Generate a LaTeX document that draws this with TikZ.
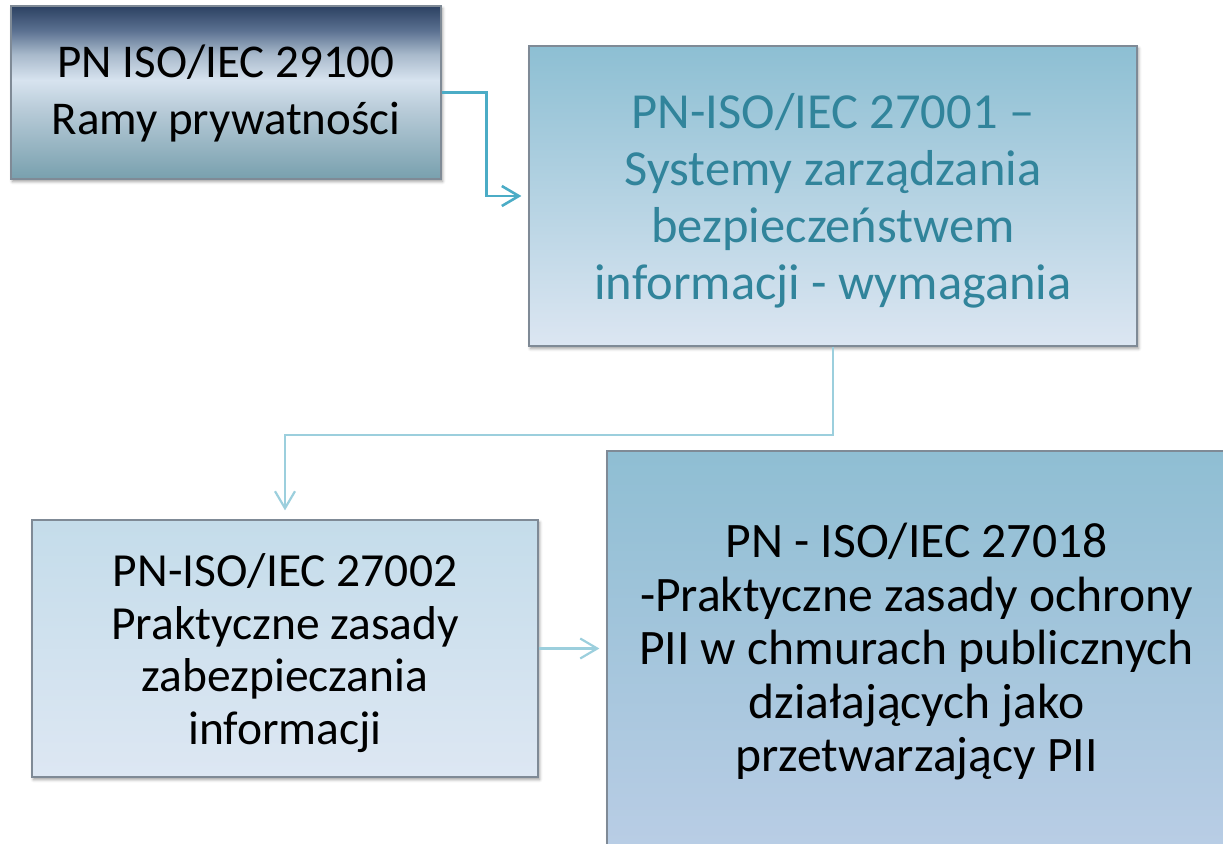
\documentclass[tikz,border=0pt]{standalone}
\usepackage{fontspec}
\setmainfont{Carlito}
\usetikzlibrary{arrows.meta,shadows.blur,calc}

% palette
\definecolor{boxedge}{HTML}{7F8A96}
\definecolor{tealtext}{HTML}{31849B}
\definecolor{linkdark}{HTML}{4BACC6}
\definecolor{linklight}{HTML}{9CCFDD}
\definecolor{mnA}{HTML}{78A0AE}
\definecolor{mnB}{HTML}{B8CBD8}
\definecolor{mnC}{HTML}{D7E3EF}
\definecolor{mnD}{HTML}{A8B9CB}
\definecolor{mnE}{HTML}{5A7090}
\definecolor{mnF}{HTML}{2C4162}
\definecolor{aquaTop}{HTML}{8DBFD3}
\definecolor{aquaBot}{HTML}{DCE6F2}
\definecolor{paleTop}{HTML}{C4DCEA}
\definecolor{paleBot}{HTML}{DDE7F3}
\definecolor{deepTop}{HTML}{8FBED3}
\definecolor{deepBot}{HTML}{B9CDE5}

% metallic navy fill of the first box (path spans 25bp..75bp)
\pgfdeclareverticalshading{metalnavy}{100bp}{%
  color(0bp)=(mnA); color(25bp)=(mnA); color(45bp)=(mnB);
  color(53.6bp)=(mnC); color(61bp)=(mnD); color(68bp)=(mnE);
  color(75bp)=(mnF); color(100bp)=(mnF)}

\tikzset{
  box/.style={draw=boxedge, line width=1.2bp, rectangle, inner sep=0pt,
    blur shadow={shadow xshift=1.5bp, shadow yshift=-2.5bp,
      shadow blur radius=3bp, shadow opacity=40}},
  caption/.style={align=center, inner sep=0pt},
  txtA/.style={caption, font=\fontsize{47bp}{57bp}\selectfont},
  txtB/.style={caption, text=tealtext, font=\fontsize{50.5bp}{57bp}\selectfont},
  txtC/.style={caption, font=\fontsize{47.5bp}{52.5bp}\selectfont},
  txtD/.style={caption, font=\fontsize{49.6bp}{53.5bp}\selectfont},
  barb/.style={-{Straight Barb[length=17bp,width=20bp]}},
  linkA/.style={barb, draw=linkdark, line width=2.6bp, shorten >=7bp},
  linkB/.style={barb, draw=linklight, line width=2.2bp},
}

\begin{document}
\begin{tikzpicture}[x=1bp,y=-1bp]
  \useasboundingbox (0,0) rectangle (1223,844);

  % boxes, each with its caption set in the middle
  \node[box, shading=metalnavy, minimum width=430bp, minimum height=173bp,
    label={[txtA, yshift=-1bp]center:{PN ISO/IEC 29100\\Ramy prywatności}}]
    (b1) at (226,92.5) {};
  \node[box, top color=aquaTop, bottom color=aquaBot,
    minimum width=608bp, minimum height=300bp,
    label={[txtB, yshift=-5bp]center:{PN-ISO/IEC 27001 –\\Systemy zarządzania\\bezpieczeństwem\\informacji - wymagania}}]
    (b2) at (833,196) {};
  \node[box, top color=paleTop, bottom color=paleBot,
    minimum width=506bp, minimum height=257bp,
    label={[txtC, yshift=-4.5bp]center:{PN-ISO/IEC 27002\\Praktyczne zasady\\zabezpieczania\\informacji}}]
    (b3) at (285,648.5) {};
  \node[box, top color=deepTop, bottom color=deepBot,
    minimum width=619bp, minimum height=398bp,
    label={[txtD, yshift=-2bp]center:{PN - ISO/IEC 27018\\-Praktyczne zasady ochrony\\PII w chmurach publicznych\\działających jako\\przetwarzający PII}}]
    (b4) at (916.5,650) {};

  % connectors
  \coordinate (k1) at ($(b1.east)+(45,0)$);
  \draw[linkA] (b1.east) -- (k1) |- (b2.west);
  \coordinate (k2) at ($(b2.south)+(0,88)$);
  \draw[linkB, shorten >=9bp] (b2.south) -- (k2) -| (b3.north);
  \draw[linkB, shorten >=7bp] (b3.east) -- (b3.east -| b4.west);
\end{tikzpicture}
\end{document}
